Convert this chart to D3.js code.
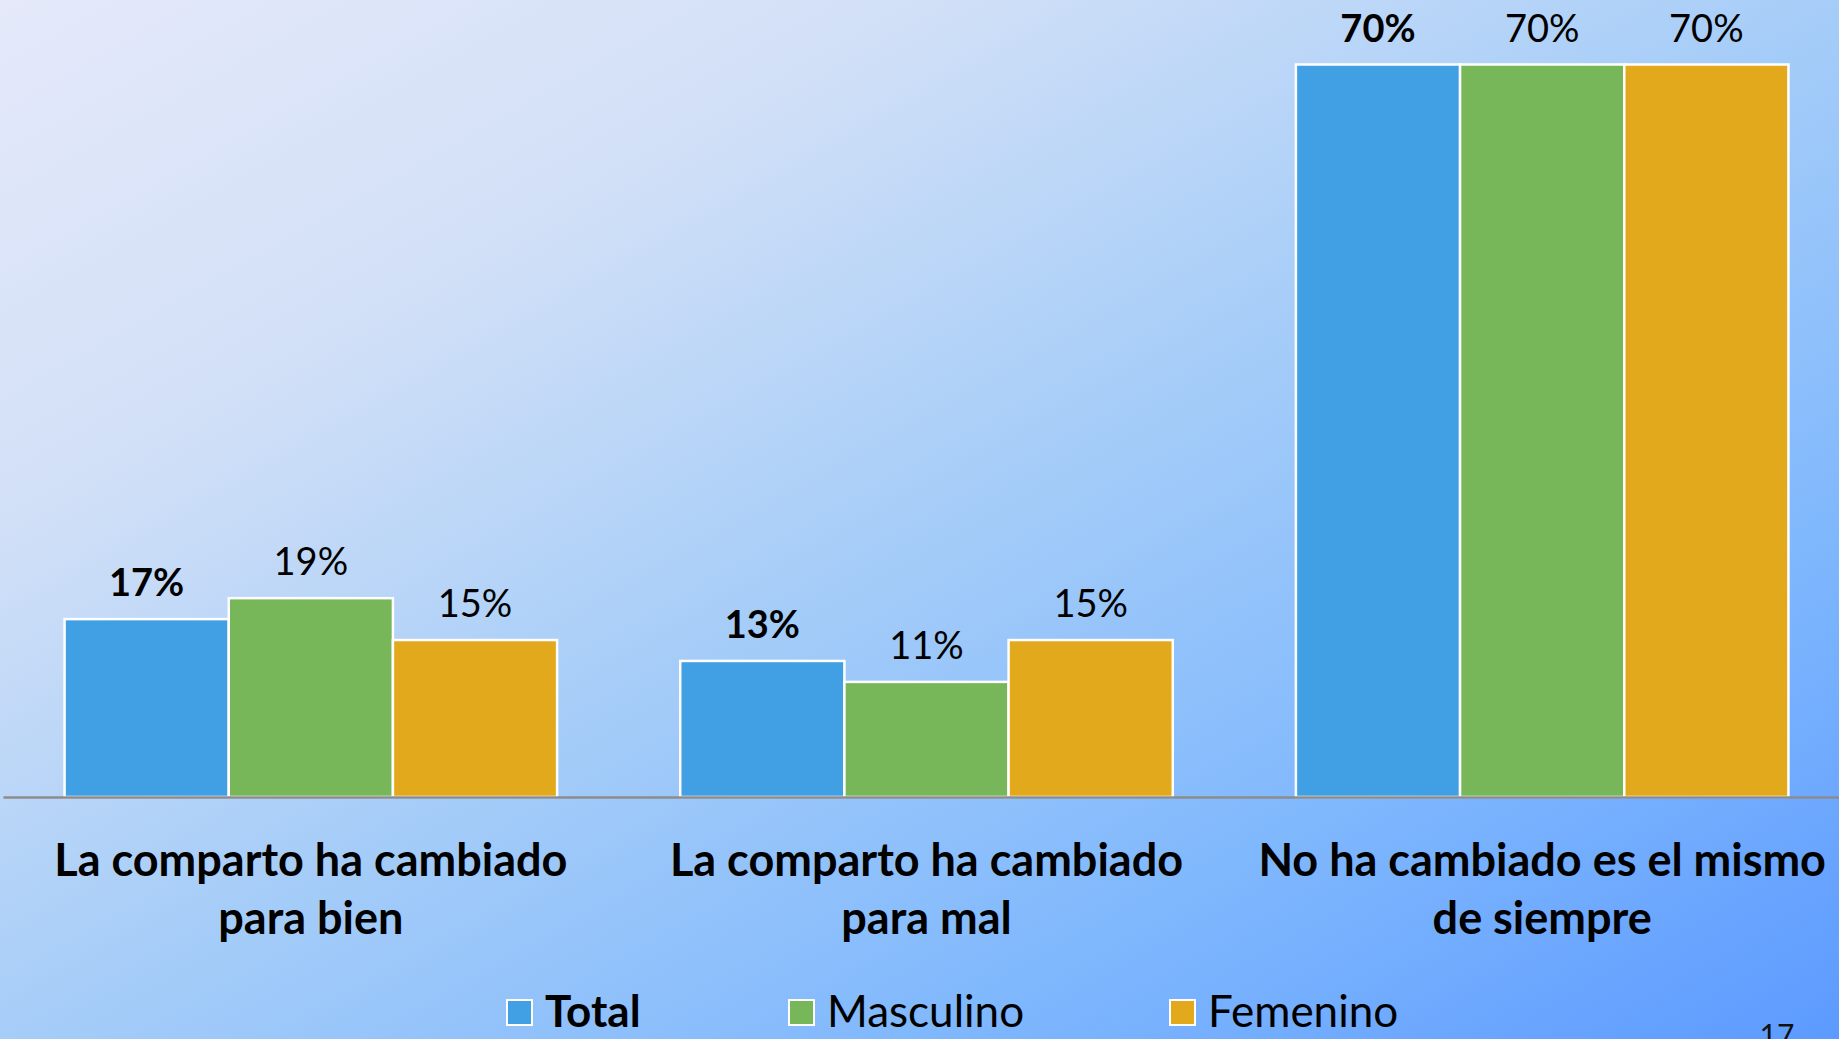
<!DOCTYPE html>
<html>
<head>
<meta charset="utf-8">
<script src="https://cdn.jsdelivr.net/npm/d3@7"></script>
<style>
  html, body { margin: 0; padding: 0; overflow: hidden; }
  svg { display: block; font-family: Lato, "Open Sans", sans-serif; }
</style>
</head>
<body>
<svg id="chart"></svg>
<script>
// chart data
const categories = ['La comparto ha cambiado para bien', 'La comparto ha cambiado para mal', 'No ha cambiado es el mismo de siempre'];
const categoryLines = [['La comparto ha cambiado', 'para bien'], ['La comparto ha cambiado', 'para mal'], ['No ha cambiado es el mismo', 'de siempre']];
const seriesNames = ['Total', 'Masculino', 'Femenino'];
const totalValues = [17, 13, 70];
const masculinoValues = [19, 11, 70];
const femeninoValues = [15, 15, 70];
const seriesColors = ['#419fe3', '#78b65a', '#e2a91c'];
const pageNumber = '17';

const width = 1839, height = 1039;
const svg = d3.select('#chart').attr('width', width).attr('height', height);

// background gradient, light lavender top-left to bright blue bottom-right
const defs = svg.append('defs');
const grad = defs.append('linearGradient').attr('id', 'bg')
  .attr('x1', 0).attr('y1', 0).attr('x2', 1).attr('y2', 1);
[[0, '#e5e9fa'], [0.25, '#d2e0f7'], [0.5, '#a6cdf8'], [0.75, '#80b8fd'], [1, '#5c9aff']]
  .forEach(([o, c]) => grad.append('stop').attr('offset', o).attr('stop-color', c));
svg.append('rect').attr('width', width).attr('height', height).attr('fill', 'url(#bg)');

const values = [totalValues, masculinoValues, femeninoValues];
const rows = categories.map((c, i) => ({
  category: c,
  lines: categoryLines[i],
  bars: seriesNames.map((s, j) => ({ series: s, value: values[j][i], idx: j }))
}));

const x = d3.scaleBand().domain(categories).range([3, 1850]).paddingInner(0.2).paddingOuter(0.1);
const xs = d3.scaleBand().domain(seriesNames).range([0, x.bandwidth()]);
const y = d3.scaleLinear().domain([0, 70]).range([797, 64.5]);

const group = svg.selectAll('g.cat').data(rows).join('g')
  .attr('class', 'cat')
  .attr('transform', d => `translate(${x(d.category)},0)`);

group.selectAll('rect').data(d => d.bars).join('rect')
  .attr('x', d => xs(d.series))
  .attr('y', d => y(d.value))
  .attr('width', xs.bandwidth())
  .attr('height', d => y(0) - y(d.value))
  .attr('fill', d => seriesColors[d.idx])
  .attr('stroke', '#fff')
  .attr('stroke-width', 2.5);

group.selectAll('text.val').data(d => d.bars).join('text')
  .attr('class', 'val')
  .attr('x', d => xs(d.series) + xs.bandwidth() / 2)
  .attr('y', d => y(d.value) - 23)
  .attr('text-anchor', 'middle')
  .attr('font-size', 38)
  .attr('font-weight', d => d.idx === 0 ? 700 : 400)
  .attr('fill', '#000')
  .text(d => d.value + '%');

// baseline axis
const axis = svg.append('g').attr('transform', `translate(0,${y(0)})`)
  .call(d3.axisBottom(d3.scaleLinear().range([3, width])).ticks(0).tickSize(0).tickFormat(''));
axis.select('.domain').attr('stroke', '#8c8c8c').attr('stroke-width', 2.5);

// category labels
group.append('text')
  .attr('text-anchor', 'middle')
  .attr('font-size', 45)
  .attr('font-weight', 700)
  .attr('fill', '#000')
  .selectAll('tspan').data(d => d.lines).join('tspan')
  .attr('x', x.bandwidth() / 2)
  .attr('y', (d, i) => 876 + i * 58)
  .text(d => d);

// legend
const legendX = [507, 789, 1170];
const legend = svg.selectAll('g.leg').data(seriesNames).join('g')
  .attr('class', 'leg')
  .attr('transform', (d, i) => `translate(${legendX[i]},1000)`);
legend.append('rect')
  .attr('width', 25).attr('height', 25)
  .attr('fill', (d, i) => seriesColors[i])
  .attr('stroke', '#fff').attr('stroke-width', 2);
legend.append('text')
  .attr('x', 38).attr('y', 27)
  .attr('font-size', 44)
  .attr('font-weight', (d, i) => i === 0 ? 700 : 400)
  .attr('fill', '#000')
  .text(d => d);

// slide number, cut off at the bottom edge as in the slide
svg.append('text')
  .attr('x', 1777).attr('y', 1046)
  .attr('text-anchor', 'middle')
  .attr('font-size', 30)
  .attr('fill', '#111')
  .text(pageNumber);
</script>
</body>
</html>
